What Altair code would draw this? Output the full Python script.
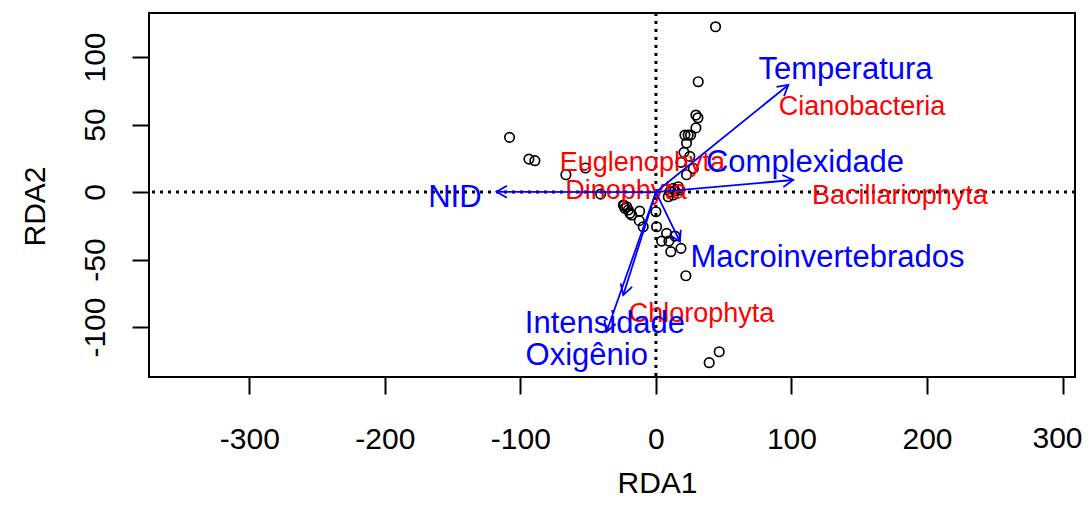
import math
import altair as alt
import pandas as pd

# ---- site scores (black circles) ----
site_x = [44, 31.2, 29.5, 31, 29.5, 21.4, 23.8, 25.6, 22.6, 20.7, 25, 18.5, 22.6, 27.6,
          12.8, 16.5, 9.1, 10.3, 12.8, 17.7, 14,
          -108, -93.7, -89.3, -52, -66.4, -40.8,
          -24, -21.6, -20.4, -19.2, -22.9, -17.9, -23.6, -12, -12.3, -9.4,
          0, 0.5, 7.9, 14, 4.2, 9.6, 18.5, 11, 22.1, 46.7, 39.3]
site_y = [122.4, 81.7, 57, 55, 47.5, 42.2, 42.2, 42.2, 36.3, 29.4, 26.4, 22, 12.8, 17.5,
          2.7, 3.9, -3.5, 0.2, -2.2, 1.5, 1,
          40.5, 24.4, 23.2, 17.8, 12.8, -1.5,
          -9.6, -10.9, -13.3, -15.8, -12, -17, -10, -14.2, -21.2, -25.7,
          -14.6, -25.7, -30.6, -32.6, -36.3, -36.3, -41.7, -44.2, -62, -118.3, -126.4]

# ---- environmental biplot arrows (blue) ----
env_names = ["Temperatura", "Complexidade", "NID", "Macroinvertebrados", "Intensidade", "Oxigênio"]
env_x = [97.7, 101.3, -117.6, 17.7, -36.4, -24.1]
env_y = [79.3, 8.9, 0.2, -36.8, -103.5, -76.3]
env_lab_x = [139.9, 110, -148.3, 126.6, -37.6, -51]
env_lab_y = [91.6, 23.1, -3.2, -47.6, -96.3, -120]

# ---- species labels (red) ----
sp_names = ["Cianobacteria", "Euglenophyta", "Dinophyta", "Bacillariophyta", "Chlorophyta"]
sp_x = [152, -10, -22.1, 180, 33.6]
sp_y = [64.7, 23.2, 2.2, -1.2, -88.6]

x_ticks = [-300, -200, -100, 0, 100, 200, 300]
y_ticks = [-100, -50, 0, 50, 100]

X_DOM = [-374, 309.2]
Y_DOM = [-137, 132.6]
W, H = 926, 364
FONT = "Liberation Sans"

sites = pd.DataFrame({"x": site_x, "y": site_y})
kx = W / (X_DOM[1] - X_DOM[0])
ky = H / (Y_DOM[1] - Y_DOM[0])
env = pd.DataFrame({"name": env_names, "x": env_x, "y": env_y,
                    "lx": env_lab_x, "ly": env_lab_y})
env["x0"] = 0.0
env["y0"] = 0.0
env["ang"] = [(math.degrees(math.atan2(a * kx, b * ky)) + 360) % 360 for a, b in zip(env_x, env_y)]
sp = pd.DataFrame({"name": sp_names, "x": sp_x, "y": sp_y})
zero = pd.DataFrame({"x": [0], "y": [0]})
last_tick = pd.DataFrame({"x": [x_ticks[-1]], "t": [str(x_ticks[-1])]})

xs = alt.Scale(domain=X_DOM, nice=False, zero=False)
ys = alt.Scale(domain=Y_DOM, nice=False, zero=False)

x_axis = alt.Axis(values=x_ticks, tickSize=17, tickWidth=2, tickColor="black", domain=False,
                  grid=False, labelFont=FONT, labelFontSize=30, labelColor="black",
                  labelPadding=54, labelBaseline="alphabetic", labelFlush=False,
                  labelOverlap=False,
                  labelExpr="datum.value == %d ? '' : '' + datum.value" % x_ticks[-1],
                  title="RDA1", titleFont=FONT, titleFontSize=30, titleFontWeight="normal",
                  titleColor="black", titleBaseline="alphabetic", titleAlign="center",
                  titleX=508, titleY=115)
y_axis = alt.Axis(values=y_ticks, tickSize=17, tickWidth=2, tickColor="black", domain=False,
                  grid=False, labelFont=FONT, labelFontSize=30, labelColor="black",
                  labelAngle=270, labelAlign="center", labelBaseline="alphabetic",
                  labelPadding=28, labelFlush=False, labelOverlap=False,
                  labelExpr="'' + datum.value",
                  title="RDA2", titleFont=FONT, titleFontSize=30, titleFontWeight="normal",
                  titleColor="black", titleAngle=270, titleBaseline="alphabetic",
                  titleAlign="center", titleX=-105, titleY=193)


def X(field):
    return alt.X(field, scale=xs, axis=x_axis)


def Y(field):
    return alt.Y(field, scale=ys, axis=y_axis)


vline = alt.Chart(zero).mark_rule(color="black", strokeWidth=3, strokeDash=[3, 5]).encode(
    x=X("x:Q"))
hline = alt.Chart(zero).mark_rule(color="black", strokeWidth=3, strokeDash=[3, 5]).encode(
    y=Y("y:Q"))

# last x tick label drawn separately so it stays inside the canvas
last_lab = alt.Chart(last_tick).mark_text(color="black", font=FONT, fontSize=30, align="right",
                                          baseline="alphabetic", dx=20).encode(
    x=X("x:Q"), y=alt.value(H + 71), text="t:N")

pts = alt.Chart(sites).mark_point(shape="circle", filled=False, color="black", size=90,
                                  strokeWidth=1.7, opacity=1).encode(x=X("x:Q"), y=Y("y:Q"))

sp_text = alt.Chart(sp).mark_text(color="#FF0000", font=FONT, fontSize=27, align="center",
                                  baseline="middle", dy=2).encode(
    x=X("x:Q"), y=Y("y:Q"), text="name:N")

shafts = alt.Chart(env).mark_rule(color="#0000FF", strokeWidth=1.8).encode(
    x=X("x0:Q"), y=Y("y0:Q"), x2="x:Q", y2="y:Q")

heads = alt.Chart(env).mark_point(shape="M -0.5 0.866 L 0 0 L 0.5 0.866", filled=False,
                                  color="#0000FF", size=576, strokeWidth=1.8, opacity=1).encode(
    x=X("x:Q"), y=Y("y:Q"), angle=alt.Angle("ang:Q", scale=None))

env_text = alt.Chart(env).mark_text(color="#0000FF", font=FONT, fontSize=31, align="center",
                                    baseline="middle", dy=2).encode(
    x=X("lx:Q"), y=Y("ly:Q"), text="name:N")

chart = alt.layer(vline, hline, last_lab, pts, sp_text, shafts, heads, env_text).properties(
    width=W, height=H,
    padding={"left": 141, "top": 5, "right": 8, "bottom": 121},
    autosize=alt.AutoSizeParams(type="none"),
    background="white",
).configure_view(stroke="black", strokeWidth=2)

chart.save("out.html", embed_options={"renderer": "svg", "actions": False})
